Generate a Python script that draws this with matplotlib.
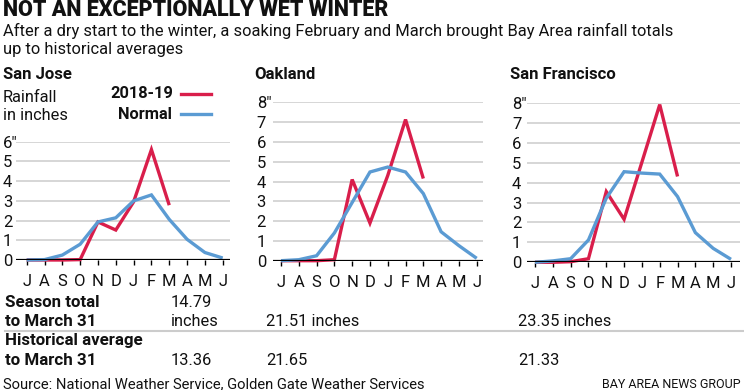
import matplotlib
matplotlib.use('Agg')
import matplotlib.pyplot as plt

W, H = 744, 390
DPI = 100

months = ['J', 'A', 'S', 'O', 'N', 'D', 'J', 'F', 'M', 'A', 'M', 'J']
cities = ['San Jose', 'Oakland', 'San Francisco']
sj_2019 = [0, 0, 0, 0.02, 1.93, 1.52, 2.95, 5.6, 2.78]
sj_normal = [0, 0.02, 0.25, 0.8, 1.93, 2.14, 3.0, 3.3, 2.06, 1.05, 0.38, 0.1]
oak_2019 = [0, 0, 0, 0.05, 4.1, 1.9, 4.3, 7.13, 4.15]
oak_normal = [0, 0.05, 0.25, 1.4, 2.94, 4.48, 4.73, 4.48, 3.39, 1.46, 0.76, 0.12]
sf_2019 = [0, 0, 0.03, 0.18, 3.55, 2.16, 5.03, 7.92, 4.31]
sf_normal = [0, 0.07, 0.18, 1.12, 3.22, 4.55, 4.48, 4.43, 3.3, 1.49, 0.7, 0.15]
y_max = [6, 8, 8]
season_totals = ['14.79\ninches', '21.51 inches', '23.35 inches']
hist_avg = ['13.36', '21.65', '21.33']

RED = '#d91e4b'
BLUE = '#5b9bd3'
GRID = '#cccccc'
TXT = '#111111'
FONT = 'Roboto'

plt.rcParams['font.family'] = [FONT, 'DejaVu Sans']

fig = plt.figure(figsize=(W / DPI, H / DPI), dpi=DPI)


def T(x, y, s, **kw):
    kw.setdefault('va', 'baseline')
    kw.setdefault('color', TXT)
    return fig.text(x / W, 1 - y / H, s, **kw)


# panel geometry in pixels: left, right, top(ymax), bottom(0), first J x, last J x, label left
panels = [
    dict(l=16, r=230, t=141.7, b=260, j0=26.7, j1=222.7, lab=3),
    dict(l=272.7, r=483, t=102.3, b=260.7, j0=281, j1=476.7, lab=256.7),
    dict(l=526.7, r=740, t=103, b=262.3, j0=535, j1=731, lab=512),
]
series_2019 = [sj_2019, oak_2019, sf_2019]
series_norm = [sj_normal, oak_normal, sf_normal]

for i, p in enumerate(panels):
    ax = fig.add_axes([p['l'] / W, 1 - p['b'] / H, (p['r'] - p['l']) / W, (p['b'] - p['t']) / H])
    step = (p['j1'] - p['j0']) / 11
    ax.set_xlim(-(p['j0'] - p['l']) / step, 11 + (p['r'] - p['j1']) / step)
    ax.set_ylim(0, y_max[i])
    for s in ax.spines.values():
        s.set_visible(False)
    ax.set_facecolor('none')
    yt = list(range(0, y_max[i] + 1))
    ylabels = [str(v) for v in yt]
    ylabels[-1] = ylabels[-1] + '"'
    for v in yt[1:]:
        ax.axhline(v, color=GRID, lw=1.1, zorder=1)
    ax.axhline(0, color='black', lw=1.6, zorder=4)
    ax.set_yticks(yt)
    ax.set_yticklabels(ylabels, fontsize=12, color=TXT)
    pad_pt = (p['l'] - p['lab']) * 72 / DPI
    ax.tick_params(axis='y', length=0, pad=pad_pt)
    for lb in ax.get_yticklabels():
        lb.set_horizontalalignment('left')
    x = list(range(len(months)))
    ax.set_xticks(x)
    ax.set_xticklabels(months, fontsize=12, color=TXT)
    ax.tick_params(axis='x', length=3.5, width=1.0, color='black', pad=6.5, direction='out')
    ax.plot(range(len(series_2019[i])), series_2019[i], color=RED, lw=2.4,
            solid_capstyle='butt', solid_joinstyle='miter', zorder=2, clip_on=False)
    ax.plot(x, series_norm[i], color=BLUE, lw=2.4,
            solid_capstyle='butt', solid_joinstyle='miter', zorder=3, clip_on=False)

# title and subtitle
T(3, 15.5, 'NOT AN EXCEPTIONALLY WET WINTER', fontsize=15.5, fontweight='black')
T(3, 36, 'After a dry start to the winter, a soaking February and March brought Bay Area rainfall totals',
  fontsize=11.9)
T(3, 54, 'up to historical averages', fontsize=11.9)

# panel titles
T(3, 79, cities[0], fontsize=12, fontweight='bold')
T(254, 79, cities[1], fontsize=12, fontweight='bold')
T(510, 79, cities[2], fontsize=12, fontweight='bold')

T(3, 102, 'Rainfall', fontsize=11.8)
T(3, 120, 'in inches', fontsize=11.8)

# legend
T(173, 98, '2018-19', fontsize=11.8, fontweight='bold', ha='right')
T(172, 119, 'Normal', fontsize=11.8, fontweight='bold', ha='right')
fig.add_artist(plt.Line2D([181 / W, 211 / W], [1 - 93.5 / H] * 2, color=RED, lw=2.4))
fig.add_artist(plt.Line2D([181 / W, 211 / W], [1 - 114 / H] * 2, color=BLUE, lw=2.4))

# table
T(5, 307, 'Season total', fontsize=12.2, fontweight='bold')
T(5, 326, 'to March 31', fontsize=12.2, fontweight='bold')
T(5, 345.5, 'Historical average', fontsize=12.2, fontweight='bold')
T(5, 365, 'to March 31', fontsize=12.2, fontweight='bold')
fig.add_artist(plt.Line2D([5 / W, 1], [1 - 331 / H] * 2, color=GRID, lw=1.5))

val_x = [171, 266, 518]
for i in range(3):
    s = season_totals[i]
    if '\n' in s:
        a, b = s.split('\n')
        T(val_x[i], 307, a, fontsize=11.8)
        T(val_x[i], 326, b, fontsize=11.8)
    else:
        T(val_x[i], 326, s, fontsize=11.8)
    T(val_x[i], 365, hist_avg[i], fontsize=11.8)

T(3, 388, 'Source: National Weather Service, Golden Gate Weather Services', fontsize=10.6)
T(741, 388, 'BAY AREA NEWS GROUP', fontsize=9, ha='right')

fig.savefig('out.png', dpi=DPI)
